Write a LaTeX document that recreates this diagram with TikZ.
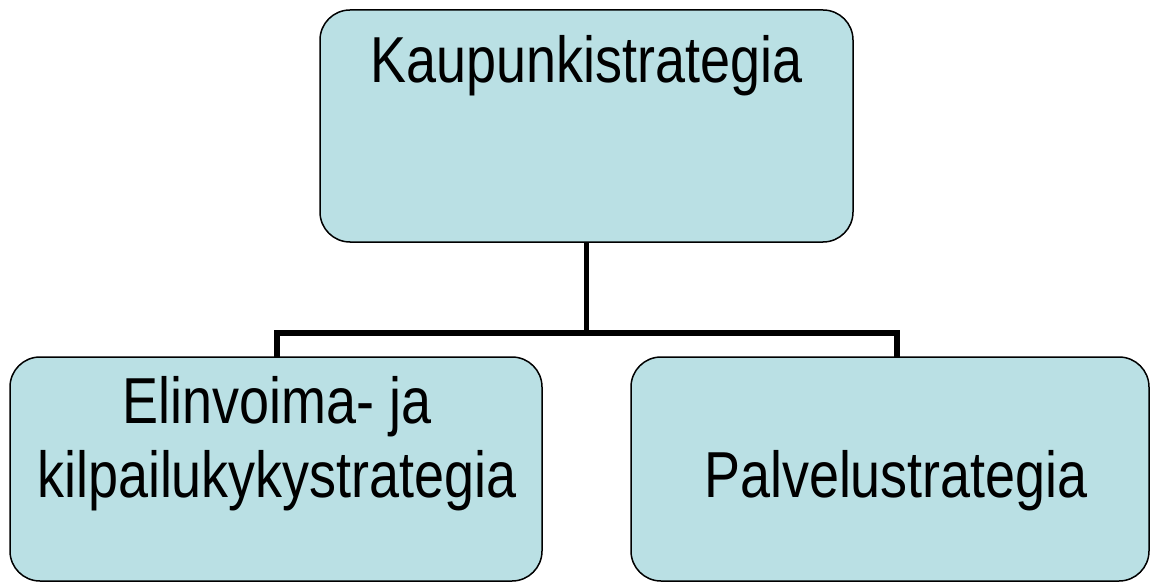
\documentclass[tikz,border=0pt]{standalone}
\usepackage{fontspec}
\newfontfamily\strategyfont[FakeStretch=0.83]{Liberation Sans}
\definecolor{boxfill}{RGB}{186,224,228}
\tikzset{
  strategybox/.style={draw=black, line width=1.5pt, fill=boxfill, rounded corners=30pt,
    inner sep=0pt, outer sep=0pt},
  strategytext/.style={anchor=base, inner sep=0pt, font=\strategyfont\fontsize{65}{74}\selectfont},
  connector/.style={line width=5.5pt, draw=black}
}
\begin{document}
\begin{tikzpicture}[x=1pt, y=-1pt]
			%%%%% START %%%%%
			\useasboundingbox[fill=white] (0, 0) rectangle (1152, 583);
			
			\node[strategybox, minimum width=533pt, minimum height=232pt] (kaupunki) at (586.5, 126) {};
			\node[strategybox, minimum width=532pt, minimum height=224pt] (elinvoima) at (276, 469) {};
			\node[strategybox, minimum width=518pt, minimum height=224pt] (palvelu) at (890, 469) {};
			
			\node[strategytext] (kaupunkiteksti) at (586.5, 83) {Kaupunkistrategia};
			\node[strategytext] (elinvoimateksti1) at (277, 423) {Elinvoima- ja};
			\node[strategytext] (elinvoimateksti2) at (277, 497) {kilpailukykystrategia};
			\node[strategytext] (palveluteksti) at (896, 497) {Palvelustrategia};
			
			\coordinate (busL) at (277, 333);
			\coordinate (busR) at (897, 333);
			
			\draw[connector] (kaupunki.south) -- (kaupunki.south |- busL);
			\draw[connector] (busL |- elinvoima.north) -- (busL) -- (busR) -- (busR |- palvelu.north);
			%%%%% END %%%%%
\end{tikzpicture}
\end{document}
